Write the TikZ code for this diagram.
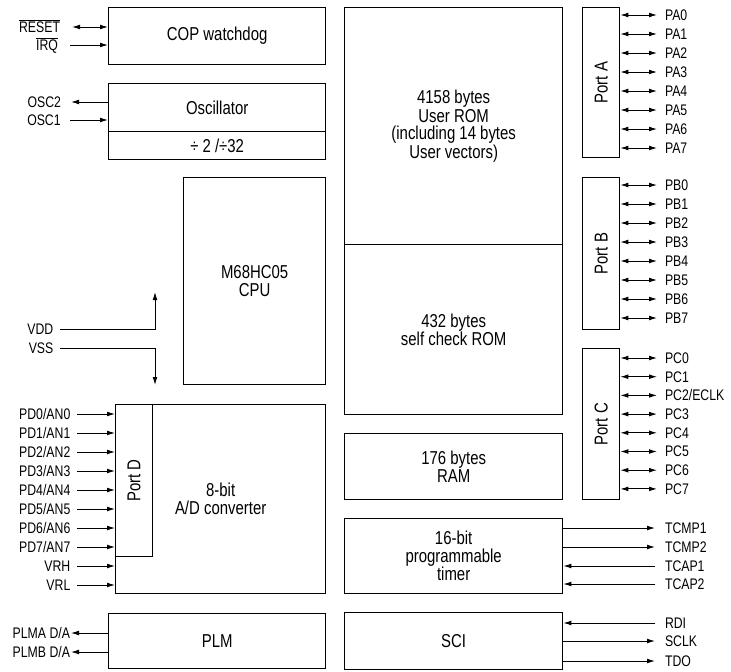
\documentclass[tikz,border=0pt]{standalone}
\usepackage{fontspec}
\setmainfont{Liberation Sans}[FakeStretch=0.8]
\usetikzlibrary{arrows.meta}
\begin{document}
\begin{tikzpicture}[x=0.75pt,y=-0.75pt,
  >={Latex[length=6pt,width=3.6pt]},
  box/.style={draw, line width=1pt, inner sep=0pt, anchor=north west, align=center,
    font=\fontsize{14}{13.5}\selectfont},
  plab/.style={font=\fontsize{14}{13.5}\selectfont, rotate=90, inner sep=0pt},
  pin/.style={line width=0.7pt},
  llab/.style={anchor=east, inner ysep=0pt, outer sep=0pt, text height=8.2pt, text depth=0pt,
    font=\fontsize{11.5}{12}\selectfont},
  rlab/.style={anchor=west, inner ysep=0pt, inner xsep=6pt, outer sep=0pt, text height=8.2pt, text depth=0pt,
    font=\fontsize{11.5}{12}\selectfont}]
\useasboundingbox (0,0) rectangle (731,671);

% ---------- left column blocks ----------
\node[box, minimum width=162.75pt, minimum height=42.75pt] (cop) at (108,7) {COP watchdog};
\node[box, minimum width=162.75pt, minimum height=36pt] (osc) at (108,83) {Oscillator};
\node[box, minimum width=162.75pt, minimum height=21pt] (div) at (108,131) {÷ 2 /÷32};
\node[box, minimum width=106.5pt, minimum height=155.25pt] (cpu) at (183,177) {M68HC05\\CPU};
\node[box, minimum width=157.5pt, minimum height=141.75pt] (ad) at (115,404) {8-bit\\A/D converter};
\node[box, minimum width=27.75pt, minimum height=114pt] (portd) at (115,404) {};
\node[plab] (portdl) at (portd.center) {Port D};
\node[box, minimum width=162.75pt, minimum height=41.25pt] (plm) at (108,613) {PLM};

% ---------- middle column blocks ----------
\node[box, minimum width=163.5pt, minimum height=177.75pt] (urom) at (344,7) {4158 bytes\\User ROM\\(including 14 bytes\\User vectors)};
\node[box, minimum width=163.5pt, minimum height=127.5pt] (srom) at (344,244) {432 bytes\\self check ROM};
\node[box, minimum width=163.5pt, minimum height=49.5pt] (ram) at (344,433) {176 bytes\\RAM};
\node[box, minimum width=163.5pt, minimum height=56.25pt] (timer) at (344,518) {16-bit\\programmable\\timer};
\node[box, minimum width=163.5pt, minimum height=42.75pt] (sci) at (344,612) {SCI};

% ---------- ports ----------
\node[box, minimum width=27.75pt, minimum height=112.5pt] (porta) at (582,7) {};
\node[plab] (portal) at (porta.center) {Port A};
\node[box, minimum width=27.75pt, minimum height=114pt] (portb) at (582,177) {};
\node[plab] (portbl) at (portb.center) {Port B};
\node[box, minimum width=27.75pt, minimum height=113.25pt] (portc) at (582,348) {};
\node[plab] (portcl) at (portc.center) {Port C};

\foreach \i in {0,...,7}{
  \node[rlab] (pa\i) at (657,{15+19*\i}) {PA\i};
  \draw[pin,<->] (porta.east |- pa\i.west) -- (pa\i.west);
  \node[rlab] (pb\i) at (657,{185+19*\i}) {PB\i};
  \draw[pin,<->] (portb.east |- pb\i.west) -- (pb\i.west);
}
\foreach \t [count=\i from 0] in {PC0,PC1,PC2/ECLK,PC3,PC4,PC5,PC6,PC7}{
  \node[rlab] (pc\i) at (657,{358+18.7*\i}) {\t};
  \draw[pin,<->] (portc.east |- pc\i.west) -- (pc\i.west);
}

% ---------- timer / SCI pins ----------
\node[rlab, inner xsep=7.5pt] (tcmp1) at (655,528) {TCMP1};
\node[rlab, inner xsep=7.5pt] (tcmp2) at (655,547) {TCMP2};
\node[rlab, inner xsep=7.5pt] (tcap1) at (655,566) {TCAP1};
\node[rlab, inner xsep=7.5pt] (tcap2) at (655,584) {TCAP2};
\draw[pin,->] (timer.east |- tcmp1.west) -- (tcmp1.west);
\draw[pin,->] (timer.east |- tcmp2.west) -- (tcmp2.west);
\draw[pin,<-] (timer.east |- tcap1.west) -- (tcap1.west);
\draw[pin,<-] (timer.east |- tcap2.west) -- (tcap2.west);

\node[rlab, inner xsep=7.5pt] (rdi) at (655,623) {RDI};
\node[rlab, inner xsep=7.5pt] (sclk) at (655,641) {SCLK};
\node[rlab, inner xsep=7.5pt] (tdo) at (655,661) {TDO};
\draw[pin,<-] (sci.east |- rdi.west) -- (rdi.west);
\draw[pin,->] (sci.east |- sclk.west) -- (sclk.west);
\draw[pin,->] (sci.east |- tdo.west) -- (tdo.west);

% ---------- left pins ----------
\node[llab, inner xsep=9pt] (reset) at (72,27) {$\overline{\mbox{RESET}}$};
\node[llab, inner xsep=9pt] (irq) at (70,45) {$\overline{\mbox{IRQ}}$};
\draw[pin,<->] (reset.east) -- (cop.west |- reset.east);
\draw[pin,->] (irq.east) -- (cop.west |- irq.east);

\node[llab, inner xsep=7.5pt] (osc2) at (71,102) {OSC2};
\node[llab, inner xsep=7pt] (osc1) at (70,120) {OSC1};
\draw[pin,->] (osc.west |- osc2.east) -- (osc2.east);
\draw[pin,->] (osc1.east) -- (osc.west |- osc1.east);

\node[llab, inner xsep=5pt] (vdd) at (60,329) {VDD};
\node[llab, inner xsep=5pt] (vss) at (60,348) {VSS};
\coordinate (vddtip) at (155,292);
\coordinate (vsstip) at (155,385);
\draw[pin,->] (vdd.east) -| (vddtip);
\draw[pin,->] (vss.east) -| (vsstip);

\foreach \i in {0,...,7}{
  \node[llab, inner xsep=5pt] (pd\i) at (77,{414+19*\i}) {PD\i/AN\i};
  \draw[pin,->] (pd\i.east) -- (ad.west |- pd\i.east);
}
\node[llab, inner xsep=5pt] (vrh) at (77,566) {VRH};
\node[llab, inner xsep=5pt] (vrl) at (77,585) {VRL};
\draw[pin,->] (vrh.east) -- (ad.west |- vrh.east);
\draw[pin,->] (vrl.east) -- (ad.west |- vrl.east);

\node[llab, inner xsep=0.75pt] (plma) at (71,633) {PLMA D/A};
\node[llab, inner xsep=0.75pt] (plmb) at (71,652) {PLMB D/A};
\draw[pin,->] (plm.west |- plma.east) -- (plma.east);
\draw[pin,->] (plm.west |- plmb.east) -- (plmb.east);
\end{tikzpicture}
\end{document}
